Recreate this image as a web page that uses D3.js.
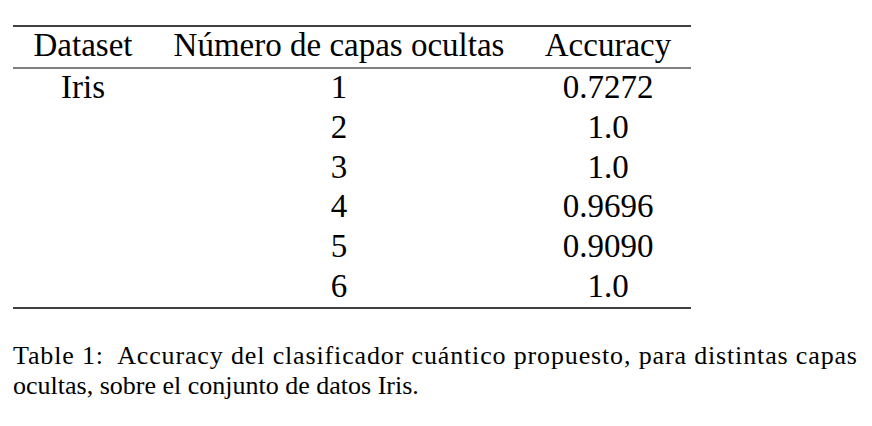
<!DOCTYPE html>
<html><head><meta charset="utf-8">
<script src="https://cdn.jsdelivr.net/npm/d3@7"></script>
<style>body{margin:0;background:#fff}</style></head>
<body><svg id="c" width="872" height="426"></svg>
<script>
const headers=["Dataset","Número de capas ocultas","Accuracy"];
const datasets=["Iris","","","","",""];
const layers=["1","2","3","4","5","6"];
const accuracy=["0.7272","1.0","1.0","0.9696","0.9090","1.0"];
const caption=["Table 1:  Accuracy del clasificador cuántico propuesto, para distintas capas","ocultas, sobre el conjunto de datos Iris."];
const svg=d3.select("#c");
const font="'Liberation Serif','Times New Roman',serif";
const cx=[83,339,608];
const y=d3.scaleLinear().domain([0,5]).range([98,297]);
[[26,1.4],[68,1],[308,1.4]].forEach(([yy,w])=>svg.append("line").attr("x1",13).attr("x2",691).attr("y1",yy).attr("y2",yy).attr("stroke","#000").attr("stroke-width",w));
svg.selectAll("text.h").data(headers).join("text").attr("x",(d,i)=>cx[i]).attr("y",56).attr("text-anchor","middle").attr("font-family",font).attr("font-size",33).text(d=>d);
const rows=layers.map((l,i)=>[datasets[i],l,accuracy[i]]);
rows.forEach((r,i)=>r.forEach((v,j)=>{if(v)svg.append("text").attr("x",cx[j]).attr("y",y(i)).attr("text-anchor","middle").attr("font-family",font).attr("font-size",33).text(v);}));
caption.forEach((c,i)=>{const t=svg.append("text").attr("x",13).attr("y",364+i*30).attr("font-family",font).attr("font-size",26).attr("xml:space","preserve").text(c);
if(i===0)t.attr("textLength",844).attr("lengthAdjust","spacing");});
</script></body></html>
